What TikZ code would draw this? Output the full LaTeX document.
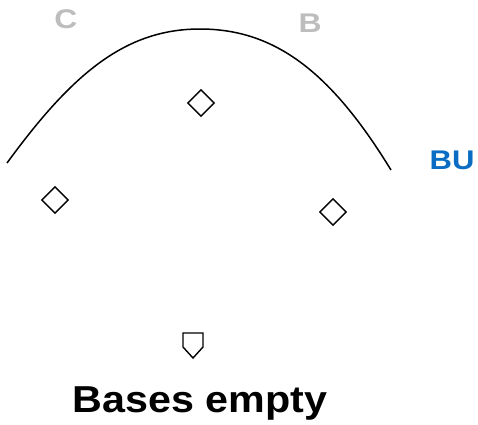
\documentclass[tikz,border=0pt]{standalone}
\usepackage{fontspec}
\setmainfont{Liberation Sans}
\usetikzlibrary{shapes.geometric}
\definecolor{posgray}{HTML}{BDBDBD}
\definecolor{bublue}{HTML}{0A6CC2}
\begin{document}
\begin{tikzpicture}[x=1pt,y=-1pt,
  basebox/.style={draw=black, line width=1.4pt, shape=diamond, minimum width=27pt, minimum height=27pt, inner sep=0pt},
  poslabel/.style={font=\bfseries\fontsize{27}{30}\selectfont, anchor=base, inner sep=0pt},
  titlelabel/.style={font=\bfseries\fontsize{37.5}{42}\selectfont, anchor=base, inner sep=0pt}]
\useasboundingbox (0,0) rectangle (478,424);
% position labels
\node[poslabel, text=posgray] (c) at (66,28.5) {\scalebox{1.18}[1]{C}};
\node[poslabel, text=posgray] (b) at (310,32.5) {\scalebox{1.18}[1]{B}};
\node[poslabel, text=bublue] (bu) at (452,169) {\scalebox{1.15}[1]{BU}};
% outfield arc
\draw[line width=1.5pt] (7,163) .. controls (72,74) and (125,29) .. (200,29)
  .. controls (275,29) and (331,72) .. (391,170);
% bases
\node[basebox] (second) at (201,103) {};
\node[basebox] (third) at (55,200) {};
\node[basebox] (first) at (333,212) {};
% home plate
\draw[line width=1.4pt, line join=miter] (183,333) -- (203,333) -- (203,347) -- (193,358) -- (183,347) -- cycle;
% title
\node[titlelabel] (title) at (200,412) {\scalebox{1.1}[1]{Bases empty}};
\end{tikzpicture}
\end{document}
